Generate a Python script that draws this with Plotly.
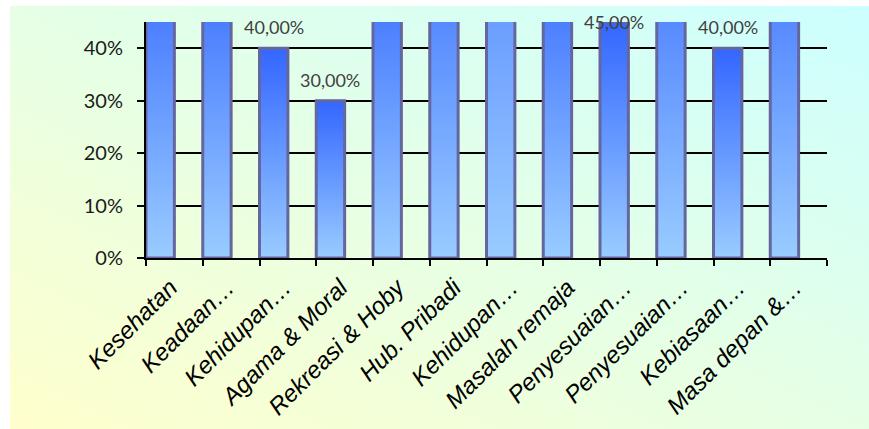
import base64
import plotly.graph_objects as go

# Topics surveyed and the share of students reporting each problem area (%)
categories = [
    "Kesehatan", "Keadaan…", "Kehidupan…", "Agama & Moral", "Rekreasi & Hoby",
    "Hub. Pribadi", "Kehidupan…", "Masalah remaja", "Penyesuaian…",
    "Penyesuaian…", "Kebiasaan…", "Masa depan &…",
]
values = [60, 60, 40, 30, 60, 70, 100, 60, 45, 70, 40, 70]

y_max = 45
y_ticks = [0, 10, 20, 30, 40]
y_tick_labels = [f"{t}%" for t in y_ticks]

BAR_TOP = "#3366ff"
BAR_BOTTOM = "#99ccff"
BAR_EDGE = "#66669f"

fig = go.Figure()

# Each column is a filled outline with a vertical gradient running from its base to its value
for i, v in enumerate(values):
    left, right = i - 0.5, i
    fig.add_trace(go.Scatter(
        x=[left, left, right, right, left],
        y=[0, v, v, 0, 0],
        mode="lines",
        line=dict(color=BAR_EDGE, width=3),
        fill="toself",
        fillgradient=dict(
            type="vertical",
            colorscale=[[0, BAR_BOTTOM], [1, BAR_TOP]],
            start=0,
            stop=v,
        ),
        hoverinfo="skip",
        showlegend=False,
    ))

# Value labels for columns that fit inside the axis range
for i, v in enumerate(values):
    if v > y_max:
        continue
    fig.add_annotation(
        x=i - 0.25, y=v, xref="x", yref="y",
        text=f"{v:.2f}%".replace(".", ","),
        showarrow=False,
        yanchor="middle" if v >= y_max else "bottom",
        yshift=0 if v >= y_max else 8,
        font=dict(family="Lato, Open Sans, sans-serif", size=18, color="#404040"),
    )

# Diagonal pale yellow -> pale cyan backdrop behind the chart
svg = (
    '<svg xmlns="http://www.w3.org/2000/svg" width="859" height="423" '
    'viewBox="0 0 859 423" preserveAspectRatio="none">'
    '<defs><linearGradient id="g" x1="0" y1="1" x2="1" y2="0">'
    '<stop offset="0" stop-color="#ffffcc"/>'
    '<stop offset="1" stop-color="#ccffff"/>'
    '</linearGradient></defs>'
    '<rect width="859" height="423" fill="url(#g)"/></svg>'
)
bg_uri = "data:image/svg+xml;base64," + base64.b64encode(svg.encode()).decode()

W, H = 869, 429
ml, mr, mt, mb = 146, 42, 22, 171
pw, ph = W - ml - mr, H - mt - mb
fig.add_layout_image(
    source=bg_uri,
    xref="paper", yref="paper",
    x=(10 - ml) / pw, y=(H - mb - 6) / ph,
    sizex=(W - 10) / pw, sizey=(H - 6) / ph,
    xanchor="left", yanchor="top",
    sizing="stretch", layer="below",
)

fig.update_layout(
    width=W, height=H,
    margin=dict(l=ml, r=mr, t=mt, b=mb),
    paper_bgcolor="white",
    plot_bgcolor="rgba(0,0,0,0)",
    showlegend=False,
)

fig.update_xaxes(
    range=[-0.5, len(categories) - 0.5],
    tickmode="array",
    tickvals=list(range(len(categories))),
    ticktext=categories,
    ticks="",
    tickangle=-45,
    ticklabelstandoff=4,
    ticklabelshift=-4,
    tickfont=dict(family="Liberation Sans, Arial, sans-serif", size=24,
                  color="#000000", style="italic"),
    minor=dict(tickmode="linear", tick0=-0.5, dtick=1, ticks="outside",
               ticklen=6, tickwidth=2, tickcolor="#000000", showgrid=False),
    showline=True, linecolor="#000000", linewidth=2,
    showgrid=False, zeroline=False, fixedrange=True,
    automargin=False,
)

fig.update_yaxes(
    range=[0, y_max],
    tickmode="array",
    tickvals=y_ticks,
    ticktext=y_tick_labels,
    ticks="outside", ticklen=7, tickwidth=2, tickcolor="#000000",
    ticklabelstandoff=10,
    tickfont=dict(family="Lato, Open Sans, sans-serif", size=20, color="#1a1a1a"),
    showline=True, linecolor="#000000", linewidth=2,
    showgrid=True, gridcolor="#000000", gridwidth=2,
    zeroline=False, fixedrange=True,
    automargin=False,
)

fig.write_html("out.html")
